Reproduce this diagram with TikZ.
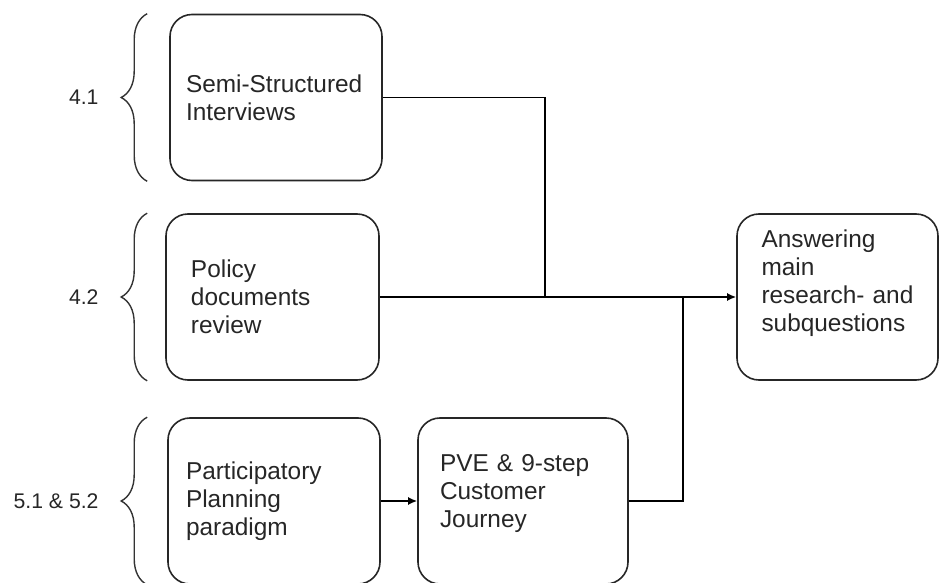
\documentclass[tikz,border=0pt]{standalone}
\usepackage{fontspec}
\setmainfont{Liberation Sans}
\usepackage{tikz}
\usetikzlibrary{arrows.meta, decorations.pathreplacing, calc}

\newcommand{\chapbrace}[3]
{
	\draw[chapbrace] ([xshift=-#1]#2.south west) -- node[chaplabel] (L#2) {#3} ([xshift=-#1]#2.north west)
}

\begin{document}
\begin{tikzpicture}[x=0.5pt, y=-0.5pt,
			box/.append style={shape=rectangle,
				draw=black!85,
				rounded corners=11pt,
				line width=0.8pt,
			minimum width=106pt,
			minimum height=83pt,
			align=left,
			text=black!85,
			font=\fontsize{12.2}{14}\selectfont},
			chapbrace/.style={decorate, decoration={brace, amplitude=13pt}, line width=0.7pt, draw=black!80},
			chaplabel/.style={left=24pt, inner sep=0, text=black!85, font=\fontsize{10.6}{12}\selectfont},
			link/.style={line width=0.8pt, draw=black},
			arrow/.style={link, -{Latex[length=4.5pt, width=4pt]}}]
			
			\useasboundingbox (0, 0) rectangle (939, 583);
			
			\node[box, text width=90pt] at (276, 97.5) (Interviews){Semi-Structured\\Interviews};
			\node[box, minimum width=106.5pt, text width=81.5pt] at (272.5, 297) (Policy){Policy\\documents\\review};
			\node[box, text width=88pt] at (274, 501) (Participatory){Participatory\\Planning\\paradigm};
			\node[box, minimum width=105pt, text width=83pt, text height=9pt, text depth=38.5pt] at (523, 501) (Journey){PVE \& 9-step\\Customer\\Journey};
			\node[box, minimum width=100.5pt, text width=76pt, text height=9pt, text depth=58.5pt] at (837.5, 297) (Answer){Answering\\main\\research- and\\subquestions};
			
			\chapbrace{11pt}{Interviews}{4.1};
			\chapbrace{9pt}{Policy}{4.2};
			\chapbrace{10pt}{Participatory}{5.1 \& 5.2};
			
			\coordinate (J1) at (545, 297);
			\coordinate (J2) at (683, 297);
			
			\draw[link] (Interviews.east) -| (J1);
			\draw[arrow] (Policy.east) -- (Answer.west);
			\draw[link] (Journey.east) -| (J2);
			\draw[arrow] (Participatory.east) -- (Journey.west);
		\end{tikzpicture}
\end{document}
